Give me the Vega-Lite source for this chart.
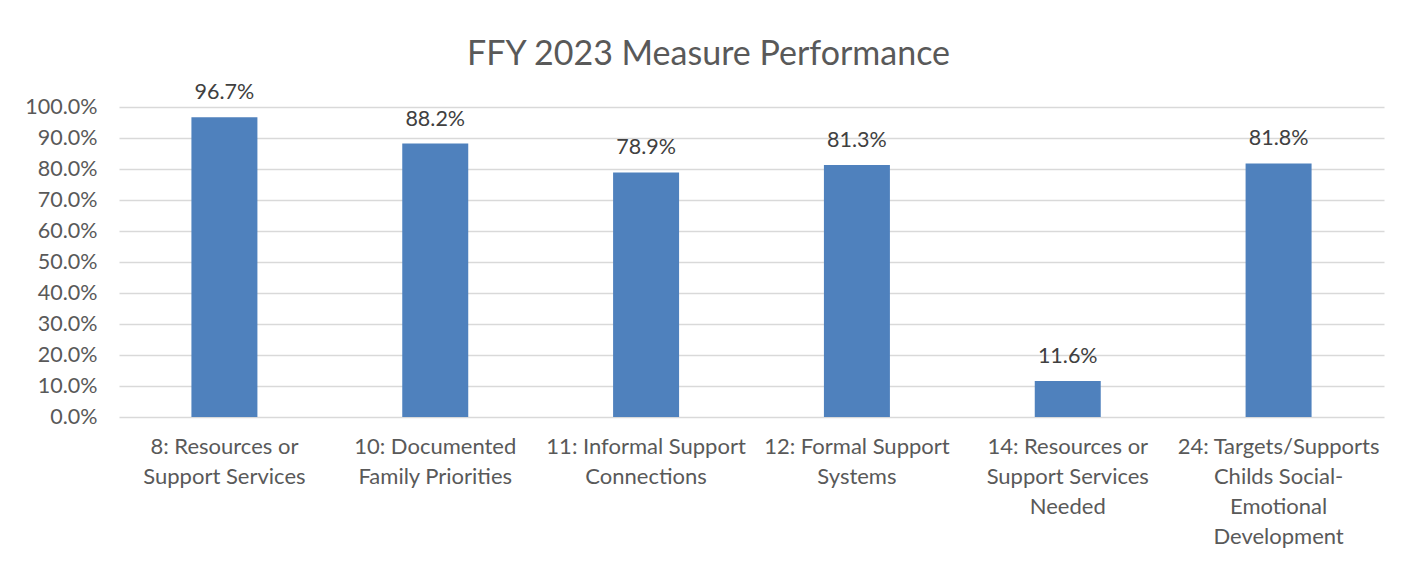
{
  "$schema": "https://vega.github.io/schema/vega-lite/v6.json",
  "width": 1265,
  "height": 310,
  "autosize": {"type": "none"},
  "padding": {"left": 119, "top": 107, "right": 32, "bottom": 149},
  "background": "white",
  "title": {
    "text": "FFY 2023 Measure Performance",
    "font": "Lato",
    "fontSize": 34,
    "fontWeight": "normal",
    "color": "#595959",
    "anchor": "middle",
    "dx": -43,
    "offset": 10
  },
  "config": {
    "view": {"stroke": null},
    "font": "Lato"
  },
  "data": {
    "values": [
      {"measure": "8: Resources or|Support Services", "value": 0.967},
      {"measure": "10: Documented|Family Priorities", "value": 0.882},
      {"measure": "11: Informal Support|Connections", "value": 0.789},
      {"measure": "12: Formal Support|Systems", "value": 0.813},
      {"measure": "14: Resources or|Support Services|Needed", "value": 0.116},
      {"measure": "24: Targets/Supports|Childs Social-|Emotional|Development", "value": 0.818}
    ]
  },
  "encoding": {
    "x": {
      "field": "measure",
      "type": "nominal",
      "sort": null,
      "scale": {"paddingInner": 0.687, "paddingOuter": 0.3435},
      "axis": {
        "title": null,
        "labelAngle": 0,
        "labelExpr": "split(datum.label, '|')",
        "labelFont": "Lato",
        "labelFontSize": 22,
        "labelColor": "#595959",
        "labelLineHeight": 30,
        "labelPadding": 19,
        "labelLimit": 400,
        "labelOverlap": false,
        "ticks": false,
        "domain": false
      }
    },
    "y": {
      "field": "value",
      "type": "quantitative",
      "scale": {"domain": [0, 1], "nice": false},
      "axis": {
        "title": null,
        "format": ".1%",
        "values": [0, 0.1, 0.2, 0.3, 0.4, 0.5, 0.6, 0.7, 0.8, 0.9, 1.0],
        "labelFont": "Lato",
        "labelFontSize": 21.5,
        "labelColor": "#595959",
        "labelPadding": 22,
        "labelOverlap": false,
        "labelFlush": false,
        "ticks": false,
        "domain": false,
        "gridColor": "#d9d9d9",
        "gridWidth": 1.3
      }
    }
  },
  "layer": [
    {"mark": {"type": "bar", "color": "#4f81bd"}},
    {
      "mark": {"type": "text", "baseline": "alphabetic", "dy": -18, "fontSize": 21.5, "color": "#404040", "font": "Lato"},
      "encoding": {"text": {"field": "value", "type": "quantitative", "format": ".1%"}}
    }
  ]
}
